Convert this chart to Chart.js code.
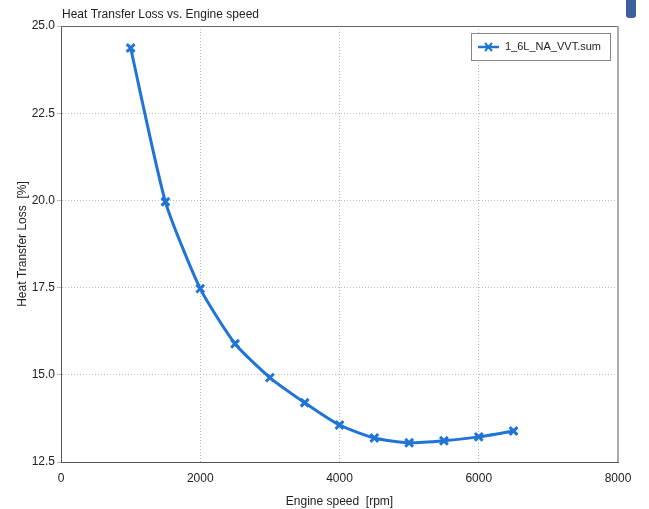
<!DOCTYPE html>
<html>
<head>
<meta charset="utf-8">
<script src="https://cdn.jsdelivr.net/npm/chart.js@4"></script>
<style>
  html, body { margin: 0; padding: 0; background: #fff; }
  #wrap { position: relative; width: 649px; height: 509px; }
  #tab { position: absolute; left: 626px; top: 0; width: 10px; height: 18px;
         background: #3d5f9c; border-radius: 0 0 3px 3px; }
</style>
</head>
<body>
<div id="wrap">
  <canvas id="myChart" width="649" height="509"></canvas>
  <div id="tab"></div>
</div>
<script>
const ctx = document.getElementById('myChart');
const lineColor = '#1f74d6';
const font = 'Liberation Sans, Arial, sans-serif';

// chart data
const engineSpeed = [1000, 1500, 2000, 2500, 3000, 3500, 4000, 4500, 5000, 5500, 6000, 6500];
const heatLoss = [24.37, 19.96, 17.47, 15.89, 14.92, 14.2, 13.56, 13.19, 13.05, 13.11, 13.22, 13.39];
const seriesName = '1_6L_NA_VVT.sum';
const chartTitle = 'Heat Transfer Loss vs. Engine speed';
const xTitle = 'Engine speed  [rpm]';
const yTitle = 'Heat Transfer Loss  [%]';

const points = engineSpeed.map((x, i) => ({ x: x, y: heatLoss[i] }));

// title, frame and legend box drawn by hand
const decorations = {
  id: 'decorations',
  afterDraw(chart) {
    const c = chart.ctx;
    const a = chart.chartArea;
    c.save();
    c.fillStyle = '#222';
    c.font = '12px ' + font;
    c.textBaseline = 'middle';
    c.fillText(chartTitle, 62, 15);

    // frame: top and right
    c.strokeStyle = '#666';
    c.lineWidth = 1;
    c.beginPath();
    c.moveTo(a.left, a.top + 0.5);
    c.lineTo(a.right, a.top + 0.5);
    c.stroke();
    c.strokeStyle = '#aaa';
    c.lineWidth = 2;
    c.beginPath();
    c.moveTo(a.right, a.top);
    c.lineTo(a.right, a.bottom);
    c.stroke();

    // legend box
    const lx = 471, ly = 33, lw = 139, lh = 27;
    c.fillStyle = '#fff';
    c.fillRect(lx, ly, lw, lh);
    c.strokeStyle = '#888';
    c.lineWidth = 1;
    c.strokeRect(lx + 0.5, ly + 0.5, lw, lh);
    c.strokeStyle = lineColor;
    c.lineWidth = 2.5;
    c.beginPath();
    c.moveTo(478, ly + 14);
    c.lineTo(499, ly + 14);
    c.stroke();
    c.lineWidth = 2;
    c.beginPath();
    c.moveTo(485, ly + 10); c.lineTo(492, ly + 18);
    c.moveTo(492, ly + 10); c.lineTo(485, ly + 18);
    c.stroke();
    c.fillStyle = '#222';
    c.font = '11px ' + font;
    c.fillText(seriesName, 505, ly + 14);
    c.restore();
  }
};

const config = {
  type: 'scatter',
  data: {
    datasets: [
      {
        label: seriesName,
        data: points,
        showLine: true,
        borderColor: lineColor,
        backgroundColor: lineColor,
        borderWidth: 3,
        tension: 0.2,
        pointStyle: 'crossRot',
        pointRadius: 5.5,
        pointBorderWidth: 3,
        pointHoverRadius: 5.5,
      },
    ],
  },
  plugins: [decorations],
  options: {
    responsive: false,
    animation: false,
    layout: {
      padding: { top: 26, right: 31, left: 0, bottom: 0 },
    },
    scales: {
      x: {
        type: 'linear',
        min: 0,
        max: 8000,
        afterFit: (scale) => { scale.height = 47; },
        ticks: {
          stepSize: 2000,
          color: '#222',
          font: { family: font, size: 12 },
          padding: 9,
          callback: (v) => String(v),
        },
        grid: {
          color: '#bbb',
          drawTicks: false,
        },
        border: { color: '#555', dash: [1, 2] },
        title: {
          display: true,
          text: xTitle,
          color: '#222',
          font: { family: font, size: 12 },
          padding: { top: 4, bottom: 0 },
        },
      },
      y: {
        min: 12.5,
        max: 25,
        afterFit: (scale) => { scale.width = 61; },
        ticks: {
          stepSize: 2.5,
          color: '#222',
          font: { family: font, size: 12 },
          padding: 2,
          callback: (v) => v.toFixed(1),
        },
        grid: {
          color: '#bbb',
          tickLength: 4,
        },
        border: { color: '#555', dash: [1, 2] },
        title: {
          display: true,
          text: yTitle,
          color: '#222',
          font: { family: font, size: 12 },
          padding: { top: 15, bottom: 4 },
        },
      },
    },
    plugins: {
      legend: { display: false },
      tooltip: { enabled: false },
    },
  },
};

new Chart(ctx, config);
</script>
</body>
</html>
